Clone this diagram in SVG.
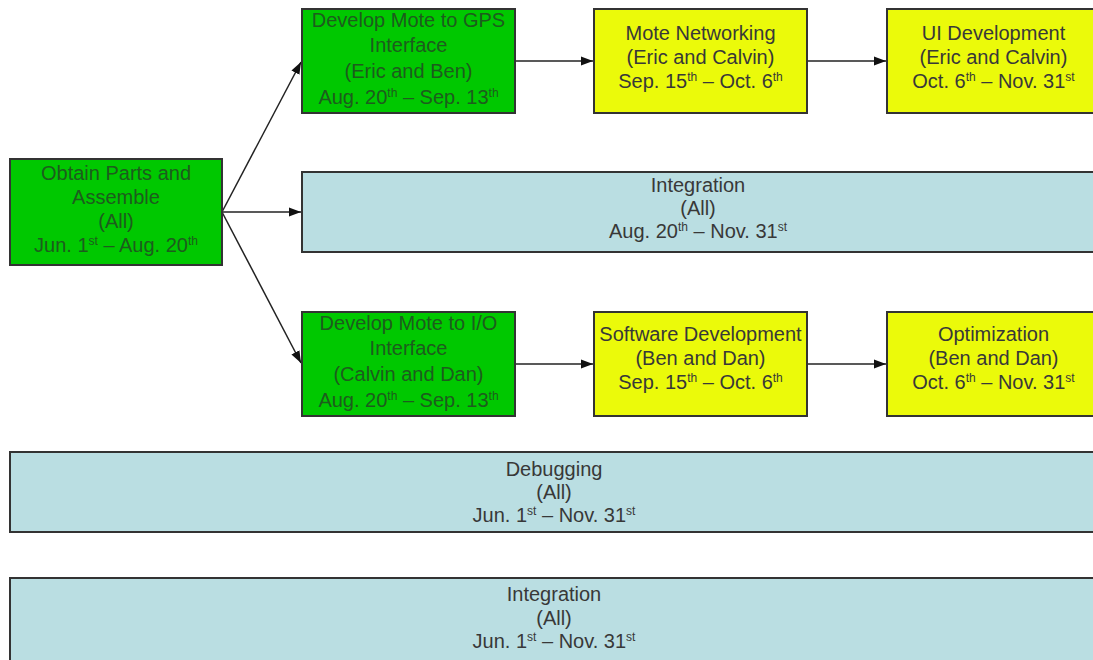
<svg xmlns="http://www.w3.org/2000/svg" width="1093" height="660" viewBox="0 0 1093 660">
<defs>
<style>
.box{stroke:#333;stroke-width:2}
.gr{fill:#00c800}
.ye{fill:#ebfa0a}
.bl{fill:#badee2}
text{font-family:"Liberation Sans",Arial,sans-serif;font-size:20px;text-anchor:middle}
.tg{fill:#1d5c1d}
.tk{fill:#383838}
.sup{font-size:12px}
.edge{stroke:#222;stroke-width:1.5;fill:none}
</style>
<marker id="ah" markerUnits="userSpaceOnUse" markerWidth="13" markerHeight="10" refX="12" refY="5" orient="auto">
<path d="M0,0.5 L12,5 L0,9.5 Z" fill="#111"/>
</marker>
</defs>
<rect width="1093" height="660" fill="#fff"/>
<g id="connectors">
<line class="edge" x1="222" y1="212" x2="301" y2="62" marker-end="url(#ah)"/>
<line class="edge" x1="222" y1="212" x2="301" y2="212" marker-end="url(#ah)"/>
<line class="edge" x1="222" y1="212" x2="301" y2="363" marker-end="url(#ah)"/>
<line class="edge" x1="515" y1="61" x2="593" y2="61" marker-end="url(#ah)"/>
<line class="edge" x1="807" y1="61" x2="886" y2="61" marker-end="url(#ah)"/>
<line class="edge" x1="515" y1="364" x2="593" y2="364" marker-end="url(#ah)"/>
<line class="edge" x1="807" y1="364" x2="886" y2="364" marker-end="url(#ah)"/>
</g>
<g id="obtain">
<rect class="box gr" x="10" y="159" width="212" height="106"/>
<text class="tg"><tspan x="116" y="180">Obtain Parts and</tspan><tspan x="116" y="204">Assemble</tspan><tspan x="116" y="228">(All)</tspan><tspan x="116" y="252">Jun. 1<tspan class="sup" dy="-7">st</tspan><tspan dy="7"> – Aug. 20</tspan><tspan class="sup" dy="-7">th</tspan></tspan></text>
</g>
<g id="gps">
<rect class="box gr" x="302" y="9" width="213" height="104"/>
<text class="tg"><tspan x="408.5" y="27">Develop Mote to GPS</tspan><tspan x="408.5" y="52">Interface</tspan><tspan x="408.5" y="78">(Eric and Ben)</tspan><tspan x="408.5" y="104">Aug. 20<tspan class="sup" dy="-7">th</tspan><tspan dy="7"> – Sep. 13</tspan><tspan class="sup" dy="-7">th</tspan></tspan></text>
</g>
<g id="networking">
<rect class="box ye" x="594" y="9" width="213" height="104"/>
<text class="tk"><tspan x="700.5" y="40">Mote Networking</tspan><tspan x="700.5" y="64">(Eric and Calvin)</tspan><tspan x="700.5" y="88">Sep. 15<tspan class="sup" dy="-7">th</tspan><tspan dy="7"> – Oct. 6</tspan><tspan class="sup" dy="-7">th</tspan></tspan></text>
</g>
<g id="ui">
<rect class="box ye" x="887" y="9" width="213" height="104"/>
<text class="tk"><tspan x="993.5" y="40">UI Development</tspan><tspan x="993.5" y="64">(Eric and Calvin)</tspan><tspan x="993.5" y="88">Oct. 6<tspan class="sup" dy="-7">th</tspan><tspan dy="7"> – Nov. 31</tspan><tspan class="sup" dy="-7">st</tspan></tspan></text>
</g>
<g id="integration1">
<rect class="box bl" x="302" y="172" width="792" height="80"/>
<text class="tk"><tspan x="698" y="192">Integration</tspan><tspan x="698" y="215">(All)</tspan><tspan x="698" y="238">Aug. 20<tspan class="sup" dy="-7">th</tspan><tspan dy="7"> – Nov. 31</tspan><tspan class="sup" dy="-7">st</tspan></tspan></text>
</g>
<g id="io">
<rect class="box gr" x="302" y="312" width="213" height="104"/>
<text class="tg"><tspan x="408.5" y="330">Develop Mote to I/O</tspan><tspan x="408.5" y="355">Interface</tspan><tspan x="408.5" y="381">(Calvin and Dan)</tspan><tspan x="408.5" y="407">Aug. 20<tspan class="sup" dy="-7">th</tspan><tspan dy="7"> – Sep. 13</tspan><tspan class="sup" dy="-7">th</tspan></tspan></text>
</g>
<g id="software">
<rect class="box ye" x="594" y="312" width="213" height="104"/>
<text class="tk"><tspan x="700.5" y="341">Software Development</tspan><tspan x="700.5" y="365">(Ben and Dan)</tspan><tspan x="700.5" y="389">Sep. 15<tspan class="sup" dy="-7">th</tspan><tspan dy="7"> – Oct. 6</tspan><tspan class="sup" dy="-7">th</tspan></tspan></text>
</g>
<g id="optimization">
<rect class="box ye" x="887" y="312" width="213" height="104"/>
<text class="tk"><tspan x="993.5" y="341">Optimization</tspan><tspan x="993.5" y="365">(Ben and Dan)</tspan><tspan x="993.5" y="389">Oct. 6<tspan class="sup" dy="-7">th</tspan><tspan dy="7"> – Nov. 31</tspan><tspan class="sup" dy="-7">st</tspan></tspan></text>
</g>
<g id="debugging">
<rect class="box bl" x="10" y="452" width="1088" height="80"/>
<text class="tk"><tspan x="554" y="476">Debugging</tspan><tspan x="554" y="499">(All)</tspan><tspan x="554" y="522">Jun. 1<tspan class="sup" dy="-7">st</tspan><tspan dy="7"> – Nov. 31</tspan><tspan class="sup" dy="-7">st</tspan></tspan></text>
</g>
<g id="integration2">
<rect class="box bl" x="10" y="578" width="1088" height="92"/>
<text class="tk"><tspan x="554" y="601">Integration</tspan><tspan x="554" y="625">(All)</tspan><tspan x="554" y="648">Jun. 1<tspan class="sup" dy="-7">st</tspan><tspan dy="7"> – Nov. 31</tspan><tspan class="sup" dy="-7">st</tspan></tspan></text>
</g>
</svg>
